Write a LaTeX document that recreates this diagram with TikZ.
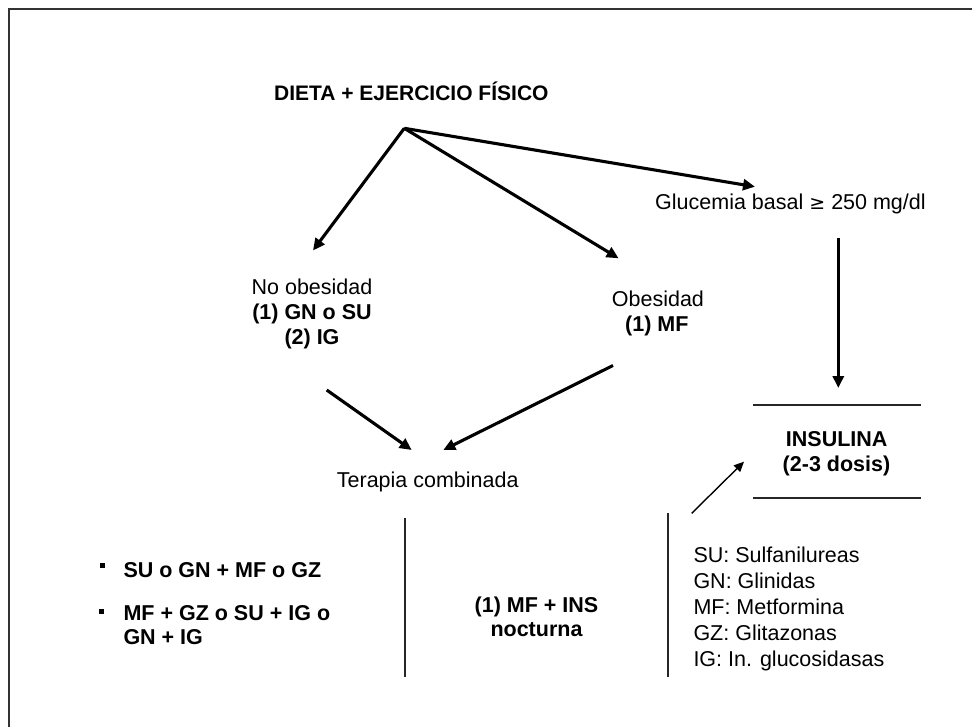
\documentclass[tikz,border=0pt]{standalone}
\usepackage{fontspec}
\setmainfont{Liberation Sans}
\newfontfamily\symfont{DejaVu Sans}
\usetikzlibrary{arrows.meta}
\begin{document}
\begin{tikzpicture}[x=1pt,y=-1pt,
  txt/.style={inner sep=0pt, font=\fontsize{21.5}{25}\selectfont},
  btxt/.style={inner sep=0pt, font=\fontsize{21.5}{25}\selectfont\bfseries},
  titletxt/.style={inner sep=0pt, font=\fontsize{21}{25}\selectfont\bfseries},
  bigarrow/.style={line width=3.1pt, -{Triangle[length=12pt,width=11pt]}},
  thinarrow/.style={line width=1.4pt, -{Triangle[length=10pt,width=9pt]}},
  rule/.style={line width=2pt, draw=black!85},
  bulletmark/.style={fill=black, inner sep=0pt, minimum size=4.5pt}]
\useasboundingbox (0,0) rectangle (972,727);
\fill[white] (0,0) rectangle (972,727);
% frame (top and left only visible)
\draw[line width=1.6pt, draw=black!80] (9,727) -- (9,9.3) -- (972,9.3);

% title
\node[titletxt, anchor=base west] (diet) at (273.9,100.7) {DIETA + EJERCICIO FÍSICO};
\coordinate (src) at (404.3,128.3);

% branches
\node[txt, anchor=base] (noob1) at (312,294.3) {No obesidad};
\node[btxt, anchor=base] (noob2) at (312,319.5) {(1) GN o SU};
\node[btxt, anchor=base] (noob3) at (312,344.5) {(2) IG};
\coordinate (noobtip) at (313,250.5);

\node[txt, anchor=base west] (ob1) at (611.7,307) {Obesidad};
\node[btxt, anchor=base west] (ob2) at (625,332) {(1) MF};
\coordinate (obtip) at (618.6,258.3);

\node[txt, anchor=base west] (gluc) at (655,210) {Glucemia basal {\symfont\fontsize{19}{24}\selectfont ≥} 250 mg/dl};
\coordinate (gluctip) at (755,186.7);

\draw[bigarrow] (src) -- (noobtip);
\draw[bigarrow] (src) -- (obtip);
\draw[bigarrow] (src) -- (gluctip);

% terapia combinada
\node[txt, anchor=base west] (terapia) at (336.7,487) {Terapia combinada};
\coordinate (noobstart) at (326.7,390);
\coordinate (terL) at (411.7,450);
\coordinate (obstart) at (613,365.5);
\coordinate (terR) at (443.3,450);
\draw[bigarrow] (noobstart) -- (terL);
\draw[bigarrow] (obstart) -- (terR);

% insulina
\coordinate (glucdown) at (838.3,238);
\coordinate (instip) at (838.3,388);
\draw[bigarrow] (glucdown) -- (instip);
\coordinate (insTL) at (753.3,405);
\coordinate (insTR) at (921,405);
\coordinate (insBL) at (753.3,498.3);
\coordinate (insBR) at (921,498.3);
\draw[rule] (insTL) -- (insTR);
\draw[rule] (insBL) -- (insBR);
\node[btxt, anchor=base] (ins1) at (836.7,446) {INSULINA};
\node[btxt, anchor=base] (ins2) at (836.5,471.7) {(2-3 dosis)};

\coordinate (thinstart) at (691.7,513.3);
\coordinate (thintip) at (744,461.7);
\draw[thinarrow] (thinstart) -- (thintip);

% vertical separators
\coordinate (v1t) at (405,518);
\coordinate (v1b) at (405,676.7);
\coordinate (v2t) at (668,513.3);
\coordinate (v2b) at (668,676.7);
\draw[rule] (v1t) -- (v1b);
\draw[rule] (v2t) -- (v2b);

% left list
\node[bulletmark] (b1) at (102.5,565.5) {};
\node[bulletmark] (b2) at (101.7,611.7) {};
\node[btxt, anchor=base west] (l1) at (123.3,577.3) {SU o GN + MF o GZ};
\node[btxt, anchor=base west] (l2) at (123.3,620) {MF + GZ o SU + IG o};
\node[btxt, anchor=base west] (l3) at (123.3,644) {GN + IG};

% middle
\node[btxt, anchor=base] (m1) at (536.5,612) {(1) MF + INS};
\node[btxt, anchor=base] (m2) at (536.5,636) {nocturna};

% legend
\node[txt, anchor=base west] (g1) at (693.3,562.5) {SU: Sulfanilureas};
\node[txt, anchor=base west] (g2) at (693.3,588.3) {GN: Glinidas};
\node[txt, anchor=base west] (g3) at (693.3,614.3) {MF: Metformina};
\node[txt, anchor=base west] (g4) at (693.3,640) {GZ: Glitazonas};
\node[txt, anchor=base west] (g5) at (693.3,666) {IG: In. glucosidasas};
\end{tikzpicture}
\end{document}
